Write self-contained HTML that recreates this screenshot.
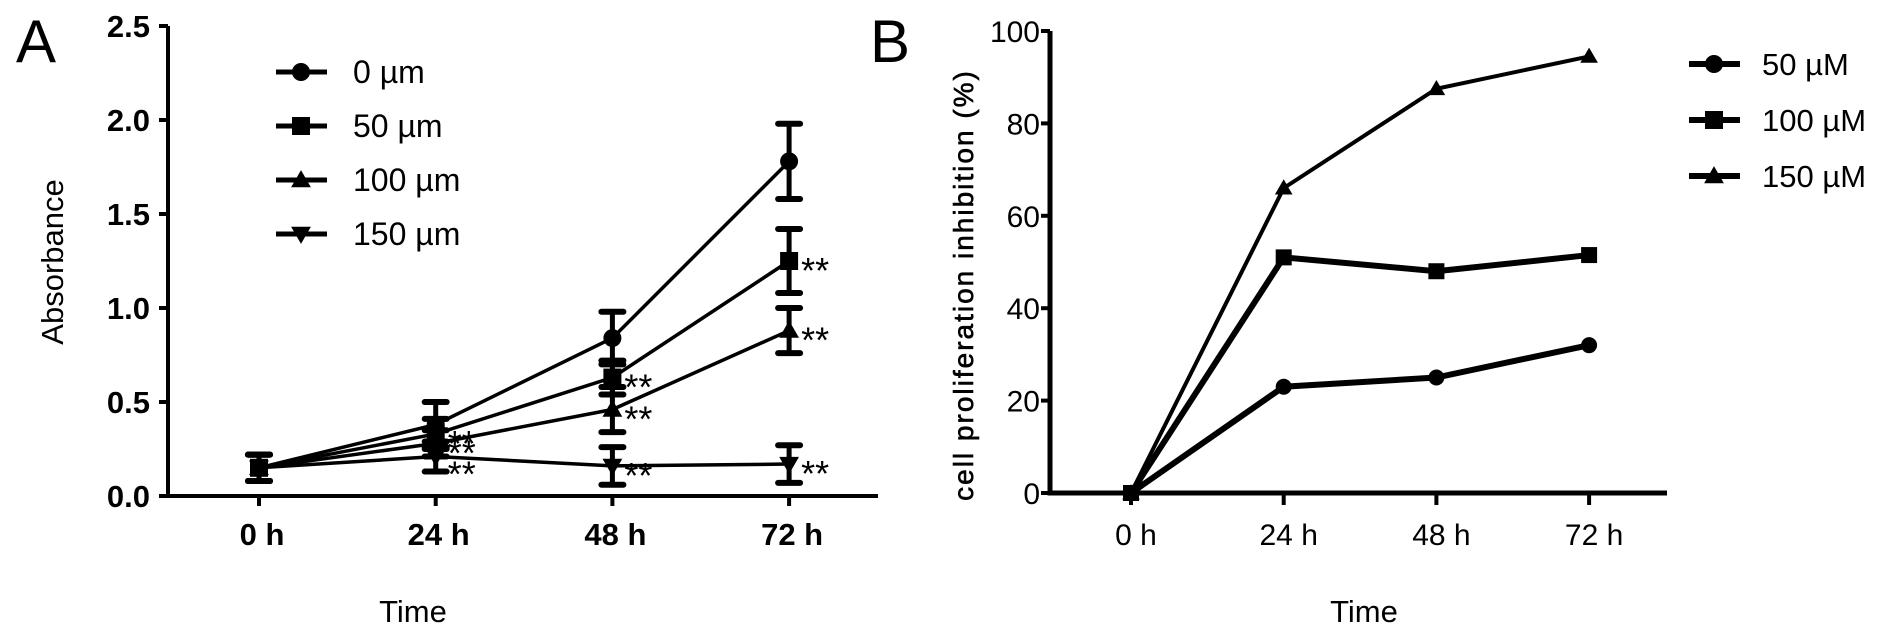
<!DOCTYPE html>
<html><head><meta charset="utf-8"><style>
body{margin:0;background:#fff;}
svg{display:block;font-family:"Liberation Sans",sans-serif;}
</style></head><body>
<svg id="c" width="1890" height="644" viewBox="0 0 1890 644">
<text x="16" y="62" font-size="60">A</text>
<text x="870" y="62" font-size="60">B</text>
<g id="ga"></g>
<g id="gb"></g>
</svg>
<script>
const catsA=["0 h","24 h","48 h","72 h"];
const ticksA=[0,0.5,1.0,1.5,2.0,2.5];
const namesA=["0 µm","50 µm","100 µm","150 µm"];
const s0=[0.15,0.38,0.84,1.78];
const s50=[0.15,0.33,0.63,1.25];
const s100=[0.15,0.28,0.46,0.88];
const s150=[0.15,0.21,0.16,0.17];
const e0=[0.07,0.12,0.14,0.20];
const e50=[0.07,0.08,0.09,0.17];
const e100=[0.07,0.07,0.12,0.12];
const e150=[0.07,0.08,0.10,0.10];
const starsA=[[false,false,false,false],[false,true,true,true],[false,true,true,true],[false,true,true,true]];
const catsB=["0 h","24 h","48 h","72 h"];
const ticksB=[0,20,40,60,80,100];
const namesB=["50 µM","100 µM","150 µM"];
const b50=[0,23,25,32];
const b100=[0,51,48,51.5];
const b150=[0,66,87.5,94.5];

const NS="http://www.w3.org/2000/svg";
function mk(p,t,a){const e=document.createElementNS(NS,t);for(const k in a)e.setAttribute(k,a[k]);p.appendChild(e);return e;}
function marker(g,shape,x,y,r){
  let e;
  if(shape==="circle")e=mk(g,"circle",{cx:x,cy:y,r:r});
  else if(shape==="square")e=mk(g,"rect",{x:x-r,y:y-r,width:2*r,height:2*r});
  else if(shape==="tri")e=mk(g,"polygon",{points:`${x-r*1.1},${y+r*0.8} ${x+r*1.1},${y+r*0.8} ${x},${y-r*1.1}`});
  else e=mk(g,"polygon",{points:`${x-r*1.1},${y-r*0.8} ${x+r*1.1},${y-r*0.8} ${x},${y+r*1.1}`});
  e.setAttribute("fill","#000");
  return e;
}
// Panel A
(function(){
  const g=document.getElementById("ga");
  const X0=168,X1=878,Y0=496,Y1=26;
  const xs=i=>259+i*176.7;
  const ys=v=>Y0-(v/2.5)*(Y0-Y1);
  let a=mk(g,"path",{d:`M${X0},${Y1} V${Y0} H${X1}`,stroke:"#000","stroke-width":4,fill:"none"});
  
  
  ticksA.forEach(t=>{mk(g,"line",{x1:X0-9,x2:X0,y1:ys(t),y2:ys(t),stroke:"#000","stroke-width":4});
    const tx=mk(g,"text",{x:150,y:ys(t)+11,"text-anchor":"end","font-size":31,"font-weight":"bold"});tx.textContent=t.toFixed(1);
    
    });
  catsA.forEach((c,i)=>{mk(g,"line",{x1:xs(i),x2:xs(i),y1:Y0,y2:Y0+10,stroke:"#000","stroke-width":4});
    const tx=mk(g,"text",{x:xs(i)+3,y:545,"text-anchor":"middle","font-size":31,"font-weight":"bold"});tx.textContent=c;
    
    });
  let t=mk(g,"text",{x:413,y:622,"text-anchor":"middle","font-size":31});t.textContent="Time";
  
  
  t=mk(g,"text",{x:0,y:0,"text-anchor":"middle","font-size":31,transform:"translate(63,262) rotate(-90)"});t.textContent="Absorbance";
  
  
  const series=[s0,s50,s100,s150],errs=[e0,e50,e100,e150],shapes=["circle","square","tri","down"];
  series.forEach((s,k)=>{
    const sg=mk(g,"g",{});
    
    
    mk(sg,"polyline",{points:s.map((v,i)=>xs(i)+","+ys(v)).join(" "),fill:"none",stroke:"#000","stroke-width":3.5});
    s.forEach((v,i)=>{
      const e=errs[k][i];
      mk(sg,"line",{x1:xs(i),x2:xs(i),y1:ys(v-e),y2:ys(v+e),stroke:"#000","stroke-width":5});
      [v-e,v+e].forEach(w=>mk(sg,"line",{x1:xs(i)-11,x2:xs(i)+11,y1:ys(w),y2:ys(w),stroke:"#000","stroke-width":6,"stroke-linecap":"round"}));
      marker(sg,shapes[k],xs(i),ys(v),9);
      if(starsA[k][i]){const st=mk(sg,"text",{x:xs(i)+12,y:ys(v)+(k===3&&i===1?30:22),"font-size":36});st.textContent="**";
        
        }
    });
  });
  namesA.forEach((n,k)=>{
    const y=72+k*54;
    const lg=mk(g,"g",{});
    
    
    mk(lg,"line",{x1:276,x2:327,y1:y,y2:y,stroke:"#000","stroke-width":5});
    marker(lg,shapes[k],301,y,9);
    const tx=mk(lg,"text",{x:353,y:y+11,"font-size":32});tx.textContent=n;
  });
})();
// Panel B
(function(){
  const g=document.getElementById("gb");
  const X0=1050,X1=1667,Y0=493,Y1=31;
  const xs=i=>1131+i*152.7;
  const ys=v=>Y0-(v/100)*(Y0-Y1);
  let a=mk(g,"path",{d:`M${X0},${Y1} V${Y0} H${X1}`,stroke:"#000","stroke-width":5,fill:"none"});
  
  
  ticksB.forEach(t=>{mk(g,"line",{x1:X0-9,x2:X0,y1:ys(t),y2:ys(t),stroke:"#000","stroke-width":4});
    const tx=mk(g,"text",{x:1040,y:ys(t)+11,"text-anchor":"end","font-size":30});tx.textContent=t;
    
    });
  catsB.forEach((c,i)=>{mk(g,"line",{x1:xs(i),x2:xs(i),y1:Y0,y2:Y0+12,stroke:"#000","stroke-width":4});
    const tx=mk(g,"text",{x:xs(i)+5,y:545,"text-anchor":"middle","font-size":30});tx.textContent=c;
    
    });
  let t=mk(g,"text",{x:1364,y:622,"text-anchor":"middle","font-size":31});t.textContent="Time";
  
  
  t=mk(g,"text",{x:0,y:0,"text-anchor":"middle","font-size":28,"letter-spacing":"2",stroke:"#000","stroke-width":0.6,transform:"translate(973,285) rotate(-90)"});t.textContent="cell proliferation inhibition (%)";
  
  
  const series=[b50,b100,b150],shapes=["circle","square","tri"];
  series.forEach((s,k)=>{
    const sg=mk(g,"g",{});
    
    
    mk(sg,"polyline",{points:s.map((v,i)=>xs(i)+","+ys(v)).join(" "),fill:"none",stroke:"#000","stroke-width":k===2?4:6});
    s.forEach((v,i)=>marker(sg,shapes[k],xs(i),ys(v),8));
  });
  namesB.forEach((n,k)=>{
    const y=64+k*56;
    const lg=mk(g,"g",{});
    
    
    mk(lg,"line",{x1:1689,x2:1740,y1:y,y2:y,stroke:"#000","stroke-width":6});
    marker(lg,shapes[k],1714,y,9);
    const tx=mk(lg,"text",{x:1762,y:y+11,"font-size":31});tx.textContent=n;
  });
})();
</script>
</body></html>
